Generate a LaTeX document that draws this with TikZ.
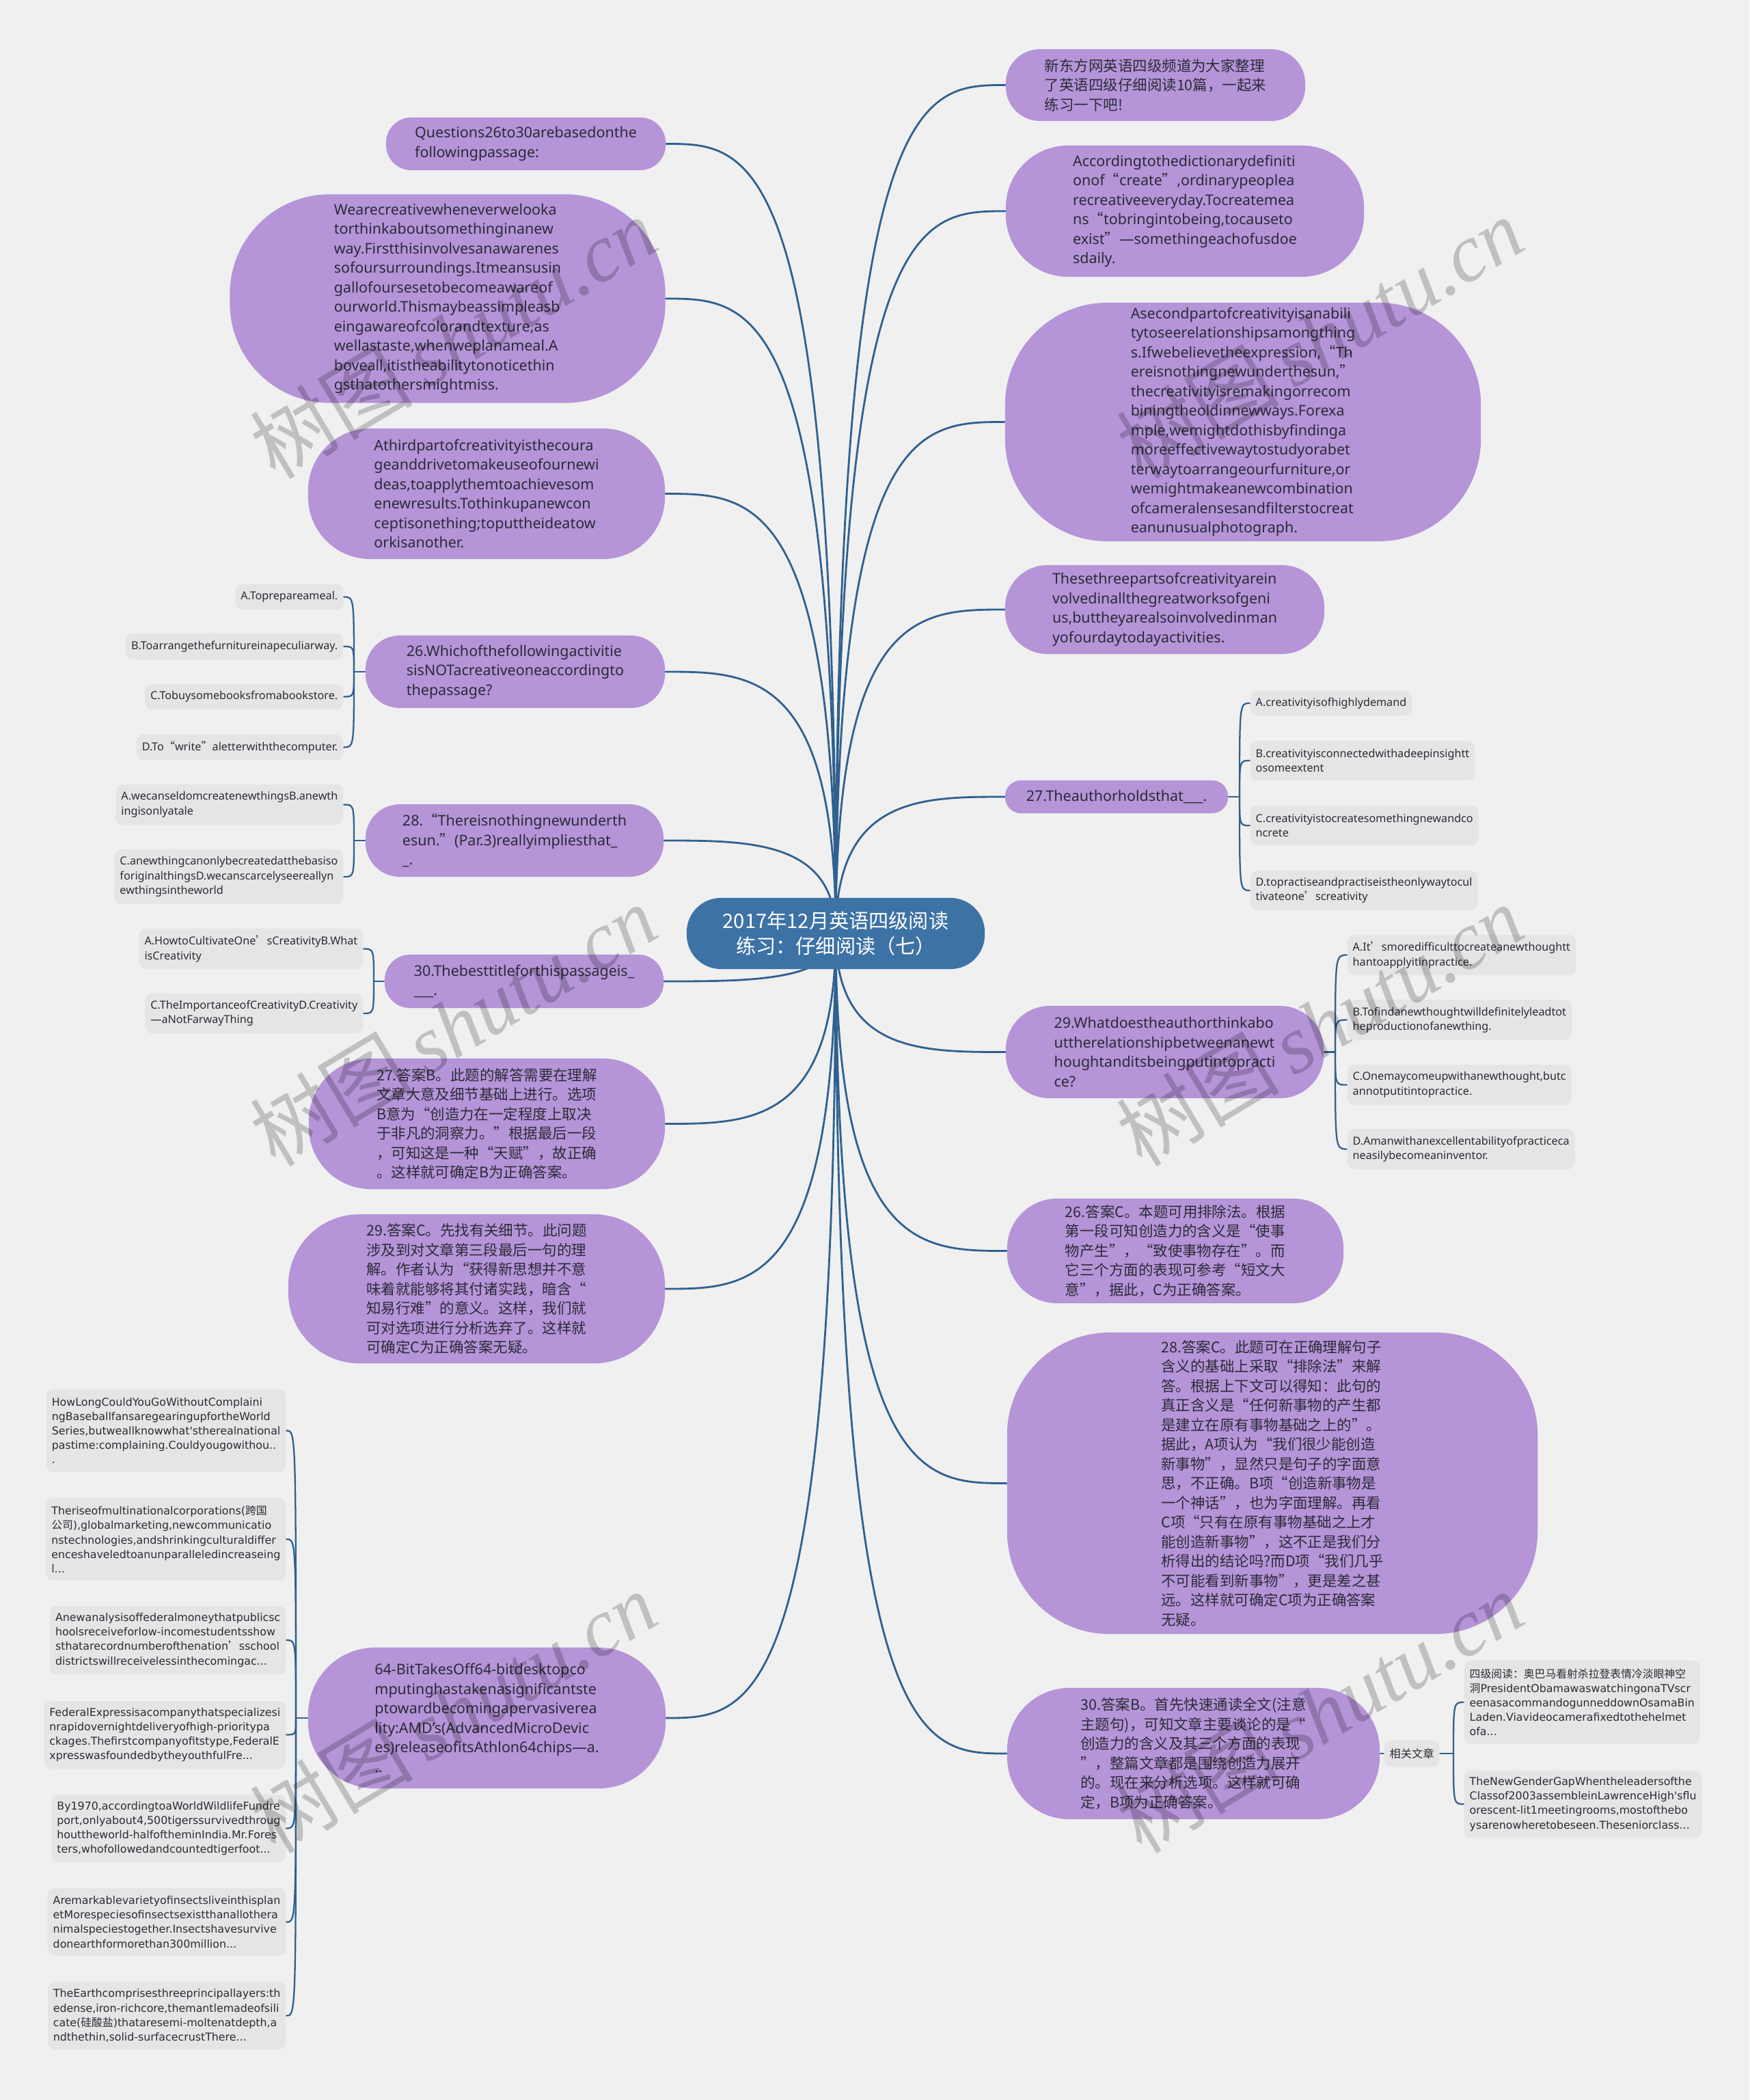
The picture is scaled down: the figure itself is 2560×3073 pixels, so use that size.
\documentclass[tikz,border=0pt]{standalone}
\usepackage{fontspec}
\setmainfont{Noto Sans}
\newfontfamily\cjk{Noto Sans CJK SC}
\newfontfamily\relf{DejaVu Sans}
\newfontfamily\wmf{Liberation Serif}
\usetikzlibrary{calc}
\definecolor{bgc}{HTML}{F0F0F0}
\definecolor{purp}{HTML}{B594D8}
\definecolor{cenc}{HTML}{3D72A5}
\definecolor{lnc}{HTML}{2F6190}
\definecolor{optbg}{HTML}{E5E5E5}
\definecolor{txt}{HTML}{2B2B36}
\newcommand\fsP{\fontsize{6.1pt}{8.1pt}\selectfont}
\newcommand\fsC{\fontsize{8.3pt}{10.6pt}\selectfont}
\newcommand\fsO{\fontsize{4.6pt}{6.1pt}\selectfont}
\newcommand\fsR{\fontsize{4.5pt}{6pt}\selectfont}
\newcommand\cq[1]{{\cjk #1}}
\pgfdeclarelayer{bottom}\pgfdeclarelayer{lines}\pgfdeclarelayer{top}
\pgfsetlayers{bottom,lines,main,top}
\begin{document}
\begin{tikzpicture}[x=0.01cm,y=-0.01cm,
  pn/.style args={#1/#2/#3}{fill=purp, text=txt, align=left, inner sep=0pt, font=\fsP,
     minimum width=#1cm, minimum height=#2cm, rounded corners=#3cm},
  cennode/.style={fill=cenc, text=white, align=center, inner sep=0pt, font=\cjk\fsC,
     minimum width=4.36cm, minimum height=1.04cm, rounded corners=0.5cm},
  ob/.style={fill=optbg, text=txt, align=left, inner xsep=0.08cm, inner ysep=0pt,
     rounded corners=0.1cm, font=\fsO},
  rel/.style={ob, font=\relf\fsR},
  conn/.style={draw=lnc, line width=0.8pt, line cap=round},
  br/.style={draw=lnc, line width=0.65pt, line cap=round},
  wm/.style={text=black, text opacity=0.2, font=\fontsize{34pt}{40pt}\selectfont, inner sep=0pt}
]
\useasboundingbox (0,0) rectangle (2560,3073);
\begin{pgfonlayer}{bottom}
\fill[bgc] (0,0) rectangle (2560,3073);
\end{pgfonlayer}

% ---------- centre ----------
\node[cennode] (c) at (1223,1366) {2017年12月英语四级阅读\\练习：仔细阅读（七）};

% ---------- left main nodes ----------
\node[pn=4.09/0.77/0.37] (L1) at (769.5,210.5) {Questions26to30arebasedonthe\\followingpassage:};
\node[pn=6.37/3.05/1.46] (L2) at (655,437) {Wearecreativewheneverwelooka\\torthinkaboutsomethinginanew\\way.Firstthisinvolvesanawarenes\\sofoursurroundings.Itmeansusin\\gallofoursesetobecomeawareof\\ourworld.Thismaybeassimpleasb\\eingawareofcolorandtexture,as\\wellastaste,whenweplanameal.A\\boveall,itistheabilitytonoticethin\\gsthatothersmightmiss.};
\node[pn=5.22/1.91/0.91] (L3) at (712,722.5) {Athirdpartofcreativityisthecoura\\geanddrivetomakeuseofournewi\\deas,toapplythemtoachievesom\\enewresults.Tothinkupanewcon\\ceptisonething;toputtheideatow\\orkisanother.};
\node[pn=4.38/1.06/0.5] (L4) at (754,983) {26.Whichofthefollowingactivitie\\sisNOTacreativeoneaccordingto\\thepassage?};
\node[pn=4.36/1.06/0.5] (L5) at (753,1230) {28.\cq{“}Thereisnothingnewunderth\\esun.\cq{”}(Par.3)reallyimpliesthat\_\\\_.};
\node[pn=4.08/0.78/0.37] (L6) at (767,1436) {30.Thebesttitleforthispassageis\_\\\_\_\_.};
\node[pn=5.21/1.91/0.91, font=\cjk\fsP] (L7) at (712.5,1644.5) {27.答案B。此题的解答需要在理解\\文章大意及细节基础上进行。选项\\B意为“创造力在一定程度上取决\\于非凡的洞察力。”根据最后一段\\，可知这是一种“天赋”，故正确\\。这样就可确定B为正确答案。};
\node[pn=5.51/2.18/1.04, font=\cjk\fsP] (L8) at (697.5,1886) {29.答案C。先找有关细节。此问题\\涉及到对文章第三段最后一句的理\\解。作者认为“获得新思想并不意\\味着就能够将其付诸实践，暗含“\\知易行难”的意义。这样，我们就\\可对选项进行分析选弃了。这样就\\可确定C为正确答案无疑。};
\node[pn=5.23/2.06/0.98] (L9) at (712.5,2514) {64-BitTakesOff64-bitdesktopco\\mputinghastakenasignificantste\\ptowardbecomingapervasiverea\\lity:AMD's(AdvancedMicroDevic\\es)releaseofitsAthlon64chips—a.\\..};

% ---------- right main nodes ----------
\node[pn=4.38/1.05/0.5, font=\cjk\fsP] (R1) at (1691,124.5) {新东方网英语四级频道为大家整理\\了英语四级仔细阅读10篇，一起来\\练习一下吧!};
\node[pn=5.24/1.92/0.91] (R2) at (1734,309) {Accordingtothedictionarydefiniti\\onof\cq{“}create\cq{”},ordinarypeoplea\\recreativeeveryday.Tocreatemea\\ns\cq{“}tobringintobeing,tocauseto\\exist\cq{”}—somethingeachofusdoe\\sdaily.};
\node[pn=6.96/3.49/1.5] (R3) at (1819,617.5) {Asecondpartofcreativityisanabili\\tytoseerelationshipsamongthing\\s.Ifwebelievetheexpression,\cq{“}Th\\ereisnothingnewunderthesun,\cq{”}\\thecreativityisremakingorrecom\\biningtheoldinnewways.Forexa\\mple,wemightdothisbyfindinga\\moreeffectivewaytostudyorabet\\terwaytoarrangeourfurniture,or\\wemightmakeanewcombination\\ofcameralensesandfilterstocreat\\eanunusualphotograph.};
\node[pn=4.67/1.30/0.62] (R4) at (1704.5,892) {Thesethreepartsofcreativityarein\\volvedinallthegreatworksofgeni\\us,buttheyarealsoinvolvedinman\\yofourdaytodayactivities.};
\node[pn=3.26/0.48/0.23] (R5) at (1634,1166) {27.Theauthorholdsthat\_\_\_.};
\node[pn=4.65/1.35/0.64] (R6) at (1704.5,1539.5) {29.Whatdoestheauthorthinkabo\\uttherelationshipbetweenanewt\\houghtanditsbeingputintopracti\\ce?};
\node[pn=4.92/1.53/0.73, font=\cjk\fsP] (R7) at (1720,1830.5) {26.答案C。本题可用排除法。根据\\第一段可知创造力的含义是“使事\\物产生”，“致使事物存在”。而\\它三个方面的表现可参考“短文大\\意”，据此，C为正确答案。};
\node[pn=7.76/4.41/1.5, font=\cjk\fsP] (R8) at (1862,2170.5) {28.答案C。此题可在正确理解句子\\含义的基础上采取“排除法”来解\\答。根据上下文可以得知：此句的\\真正含义是“任何新事物的产生都\\是建立在原有事物基础之上的”。\\据此，A项认为“我们很少能创造\\新事物”，显然只是句子的字面意\\思，不正确。B项“创造新事物是\\一个神话”，也为字面理解。再看\\C项“只有在原有事物基础之上才\\能创造新事物”，这不正是我们分\\析得出的结论吗?而D项“我们几乎\\不可能看到新事物”，更是差之甚\\远。这样就可确定C项为正确答案\\无疑。};
\node[pn=5.45/1.92/0.91, font=\cjk\fsP] (R9) at (1746.5,2566) {30.答案B。首先快速通读全文(注意\\主题句)，可知文章主要谈论的是“\\创造力的含义及其三个方面的表现\\”，整篇文章都是围绕创造力展开\\的。现在来分析选项。这样就可确\\定，B项为正确答案。};

% ---------- options of 26 ----------
\node[ob, anchor=east, minimum height=0.37cm] (a26a) at (503,873.5) {A.Toprepareameal.};
\node[ob, anchor=east, minimum height=0.38cm] (a26b) at (503,946) {B.Toarrangethefurnitureinapeculiarway.};
\node[ob, anchor=east, minimum height=0.37cm] (a26c) at (503,1019.5) {C.Tobuysomebooksfromabookstore.};
\node[ob, anchor=east, minimum height=0.37cm] (a26d) at (503,1093.5) {D.To\cq{“}write\cq{”}aletterwiththecomputer.};
% ---------- options of 28 ----------
\node[ob, anchor=east, minimum height=0.59cm] (a28a) at (503,1177.5) {A.wecanseldomcreatenewthingsB.anewth\\ingisonlyatale};
\node[ob, anchor=east, minimum height=0.80cm] (a28c) at (503,1283) {C.anewthingcanonlybecreatedatthebasiso\\foriginalthingsD.wecanscarcelyseereallyn\\ewthingsintheworld};
% ---------- options of 30 ----------
\node[ob, anchor=east, minimum height=0.59cm] (a30a) at (532,1388.5) {A.HowtoCultivateOne\cq{’}sCreativityB.What\\isCreativity};
\node[ob, anchor=east, minimum height=0.58cm] (a30c) at (532,1483) {C.TheImportanceofCreativityD.Creativity\\—aNotFarwayThing};
% ---------- related (64-bit) ----------
\node[rel, anchor=east, minimum height=1.21cm] (r1) at (419,2093.5) {HowLongCouldYouGoWithoutComplaini\\ngBaseballfansaregearingupfortheWorld\\Series,butweallknowwhat'stherealnational\\pastime:complaining.Couldyougowithou..\\.};
\node[rel, anchor=east, minimum height=1.21cm] (r2) at (419,2252.5) {Theriseofmultinationalcorporations({\cjk 跨国}\\{\cjk 公司}),globalmarketing,newcommunicatio\\nstechnologies,andshrinkingculturaldiffer\\enceshaveledtoanunparalleledincreaseing\\l...};
\node[rel, anchor=east, minimum height=1.00cm] (r3) at (419,2400) {Anewanalysisoffederalmoneythatpublicsc\\hoolsreceiveforlow-incomestudentsshow\\sthatarecordnumberofthenation\cq{’}sschool\\districtswillreceivelessinthecomingac...};
\node[rel, anchor=east, minimum height=0.99cm] (r4) at (419,2538.5) {FederalExpressisacompanythatspecializesi\\nrapidovernightdeliveryofhigh-prioritypa\\ckages.Thefirstcompanyofitstype,FederalE\\xpresswasfoundedbytheyouthfulFre...};
\node[rel, anchor=east, minimum height=0.99cm] (r5) at (419,2675.5) {By1970,accordingtoaWorldWildlifeFundre\\port,onlyabout4,500tigerssurvivedthroug\\houttheworld-halfoftheminIndia.Mr.Fores\\ters,whofollowedandcountedtigerfoot...};
\node[rel, anchor=east, minimum height=0.99cm] (r6) at (419,2812.5) {Aremarkablevarietyofinsectsliveinthisplan\\etMorespeciesofinsectsexistthanallothera\\nimalspeciestogether.Insectshavesurvive\\donearthformorethan300million...};
\node[rel, anchor=east, minimum height=0.99cm] (r7) at (419,2949.5) {TheEarthcomprisesthreeprincipallayers:th\\edense,iron-richcore,themantlemadeofsili\\cate({\cjk 硅酸盐})thataresemi-moltenatdepth,a\\ndthethin,solid-surfacecrustThere...};
% ---------- options of 27 ----------
\node[ob, anchor=west, minimum height=0.36cm] (b27a) at (1829,1029) {A.creativityisofhighlydemand};
\node[ob, anchor=west, minimum height=0.58cm] (b27b) at (1829,1113) {B.creativityisconnectedwithadeepinsightt\\osomeextent};
\node[ob, anchor=west, minimum height=0.58cm] (b27c) at (1829,1208) {C.creativityistocreatesomethingnewandco\\ncrete};
\node[ob, anchor=west, minimum height=0.58cm] (b27d) at (1829,1303) {D.topractiseandpractiseistheonlywaytocul\\tivateone\cq{’}screativity};
% ---------- options of 29 ----------
\node[ob, anchor=west, minimum height=0.59cm] (b29a) at (1971,1397.5) {A.It\cq{’}smoredifficulttocreateanewthoughtt\\hantoapplyitinpractice.};
\node[ob, anchor=west, minimum height=0.59cm] (b29b) at (1971,1492.5) {B.Tofindanewthoughtwilldefinitelyleadtot\\heproductionofanewthing.};
\node[ob, anchor=west, minimum height=0.59cm] (b29c) at (1971,1587.5) {C.Onemaycomeupwithanewthought,butc\\annotputitintopractice.};
\node[ob, anchor=west, minimum height=0.59cm] (b29d) at (1971,1681.5) {D.Amanwithanexcellentabilityofpracticeca\\neasilybecomeaninventor.};
% ---------- related of 30 answer ----------
\node[ob, anchor=west, minimum height=0.39cm, font=\cjk\fsO] (xg) at (2025,2566) {相关文章};
\node[rel, anchor=west, minimum height=1.22cm] (s1) at (2142,2491) {{\cjk 四级阅读：奥巴马看射杀拉登表情冷淡眼神空}\\{\cjk 洞}PresidentObamawaswatchingonaTVscr\\eenasacommandogunneddownOsamaBin\\Laden.Viavideocamerafixedtothehelmet\\ofa...};
\node[rel, anchor=west, minimum height=0.98cm] (s2) at (2142,2640) {TheNewGenderGapWhentheleadersofthe\\Classof2003assembleinLawrenceHigh'sflu\\orescent-lit1meetingrooms,mostofthebo\\ysarenowheretobeseen.Theseniorclass...};

% ---------- junctions ----------
\coordinate (j26) at (518,983);
\coordinate (j28) at (518,1230);
\coordinate (j30) at (547,1436);
\coordinate (j64) at (433,2514);
\coordinate (j27) at (1814,1166);
\coordinate (j29) at (1954,1539.5);
\coordinate (jxg) at (2127,2566);

% ---------- connectors ----------
\begin{pgfonlayer}{lines}
\foreach \n in {L1,L2,L3,L4,L5,L6,L7,L8,L9}
  \draw[conn] (c.center) .. controls (c.center |- \n.east) and ($(c.center |- \n.east)!0.5!(\n.east)$) .. (\n.east);
\foreach \n in {R1,R2,R3,R4,R5,R6,R7,R8,R9}
  \draw[conn] (c.center) .. controls (c.center |- \n.west) and ($(c.center |- \n.west)!0.5!(\n.west)$) .. (\n.west);
% left brackets
\draw[br] (L4.west) -- (j26);
\foreach \o in {a26a,a26b,a26c,a26d} \draw[br] (j26) .. controls (j26 |- \o.east) .. (\o.east);
\draw[br] (L5.west) -- (j28);
\foreach \o in {a28a,a28c} \draw[br] (j28) .. controls (j28 |- \o.east) .. (\o.east);
\draw[br] (L6.west) -- (j30);
\foreach \o in {a30a,a30c} \draw[br] (j30) .. controls (j30 |- \o.east) .. (\o.east);
\draw[br] (L9.west) -- (j64);
\foreach \o in {r1,r2,r3,r4,r5,r6,r7} \draw[br] (j64) .. controls (j64 |- \o.east) .. (\o.east);
% right brackets
\draw[br] (R5.east) -- (j27);
\foreach \o in {b27a,b27b,b27c,b27d} \draw[br] (j27) .. controls (j27 |- \o.west) .. (\o.west);
\draw[br] (R6.east) -- (j29);
\foreach \o in {b29a,b29b,b29c,b29d} \draw[br] (j29) .. controls (j29 |- \o.west) .. (\o.west);
\draw[br] (R9.east) -- (xg.west);
\draw[br] (xg.east) -- (jxg);
\foreach \o in {s1,s2} \draw[br] (jxg) .. controls (jxg |- \o.west) .. (\o.west);
\end{pgfonlayer}

% ---------- watermarks ----------
\begin{pgfonlayer}{top}
\foreach \p in {(663,494),(1931,494),(663,1500),(1931,1500),(663,2505),(1931,2505)}
  \node[wm, rotate=31] at \p {{\cjk 树图}\,{\wmf\itshape shutu.cn}};
\end{pgfonlayer}
\end{tikzpicture}
\end{document}
